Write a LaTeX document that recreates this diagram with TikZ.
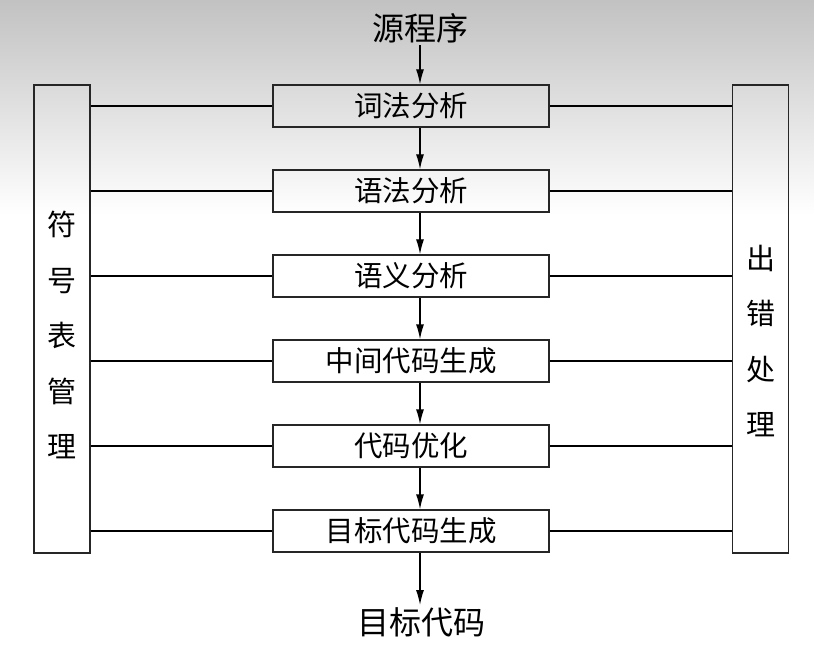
\documentclass[tikz,border=0pt]{standalone}
\usepackage{fontspec}
\setmainfont{Noto Sans CJK SC}
\usetikzlibrary{arrows.meta}
\begin{document}
\begin{tikzpicture}[x=1pt,y=-1pt,
    stage/.style={draw=black!85,line width=1.3pt,minimum width=276pt,minimum height=42pt,inner sep=0pt,font=\fontsize{28.5}{30}\selectfont},
    side/.style={draw=black!85,line width=1.3pt,minimum width=56pt,minimum height=468pt,inner sep=0pt},
    sidetext/.style={align=center,inner sep=0pt,font=\fontsize{29}{55.5}\selectfont},
    label/.style={inner sep=2pt,font=\fontsize{32}{34}\selectfont},
    flow/.style={line width=1.3pt,-{Latex[length=15pt,width=8pt]}},
    link/.style={line width=1.3pt}]
  \useasboundingbox (0,0) rectangle (814,647);
  \fill[white] (0,0) rectangle (814,647);
  \shade[top color=black!24,bottom color=white] (0,0) rectangle (814,215);
  \node[label] (src) at (420,28) {源程序};
  \node[stage] (lex) at (411,106) {词法分析};
  \node[stage] (syn) at (411,191) {语法分析};
  \node[stage] (sem) at (411,276) {语义分析};
  \node[stage] (mid) at (411,361) {中间代码生成};
  \node[stage] (opt) at (411,446) {代码优化};
  \node[stage] (gen) at (411,531) {目标代码生成};
  \node[label] (out) at (421,622) {目标代码};
  \node[side] (sym) at (62,319) {};
  \node[sidetext] at (62,335) {符\\号\\表\\管\\理};
  \node[side] (err) at (760.5,319) {};
  \node[sidetext] at (760.5,341) {出\\错\\处\\理};
  % main flow
  \draw[flow] (src) -- (src |- lex.north);
  \draw[flow] (src |- lex.south) -- (src |- syn.north);
  \draw[flow] (src |- syn.south) -- (src |- sem.north);
  \draw[flow] (src |- sem.south) -- (src |- mid.north);
  \draw[flow] (src |- mid.south) -- (src |- opt.north);
  \draw[flow] (src |- opt.south) -- (src |- gen.north);
  \draw[flow] (src |- gen.south) -- (src |- out.north);
  % side links
  \draw[link] (sym.east |- lex) -- (lex.west);
  \draw[link] (sym.east |- syn) -- (syn.west);
  \draw[link] (sym.east |- sem) -- (sem.west);
  \draw[link] (sym.east |- mid) -- (mid.west);
  \draw[link] (sym.east |- opt) -- (opt.west);
  \draw[link] (sym.east |- gen) -- (gen.west);
  \draw[link] (lex.east) -- (err.west |- lex);
  \draw[link] (syn.east) -- (err.west |- syn);
  \draw[link] (sem.east) -- (err.west |- sem);
  \draw[link] (mid.east) -- (err.west |- mid);
  \draw[link] (opt.east) -- (err.west |- opt);
  \draw[link] (gen.east) -- (err.west |- gen);
\end{tikzpicture}
\end{document}
